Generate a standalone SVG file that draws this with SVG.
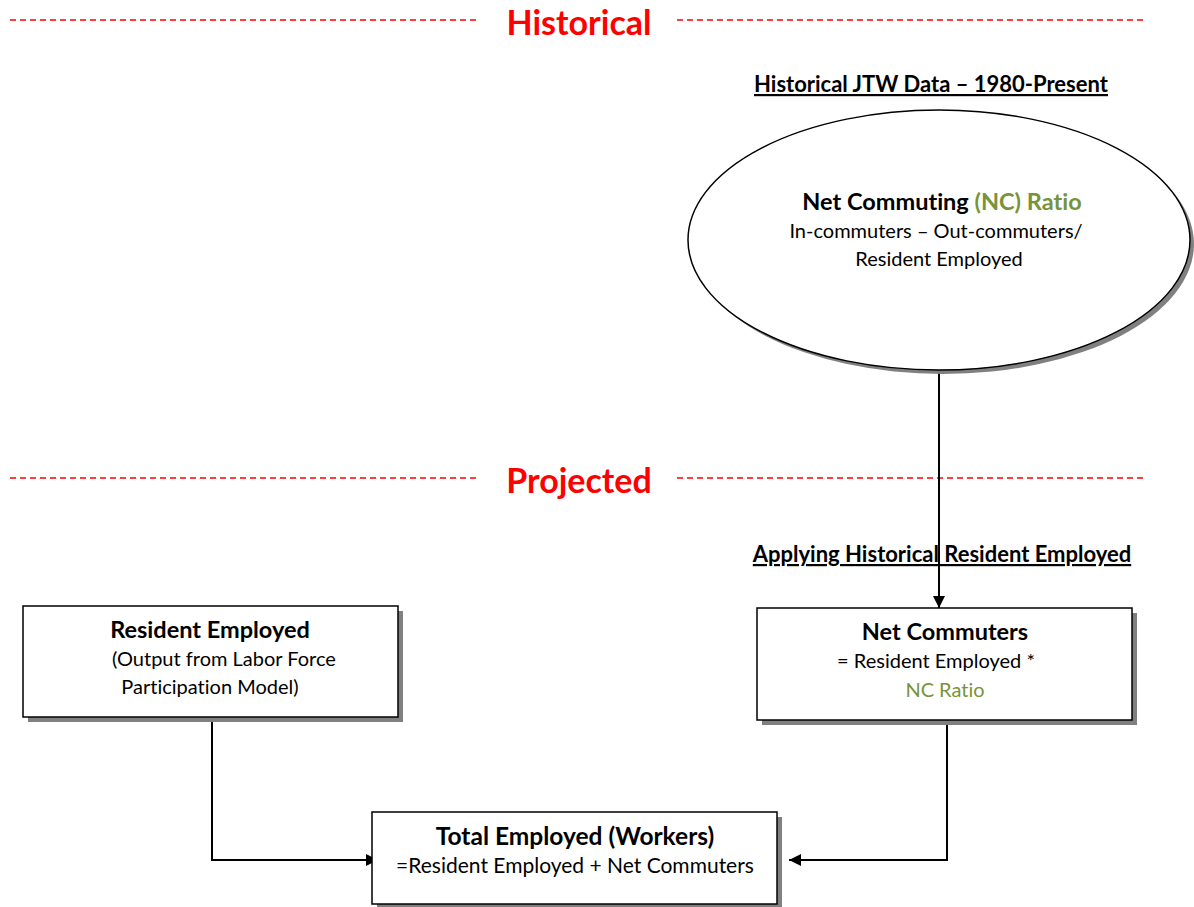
<svg xmlns="http://www.w3.org/2000/svg" width="1194" height="907" viewBox="0 0 1194 907">
<style>
text{font-family:Lato,"Liberation Sans",sans-serif;fill:#000;text-anchor:middle;font-variant-ligatures:none}
.sec{font-size:34px;font-weight:bold;fill:#ff0000}
.dash{stroke:#ff0000;stroke-width:1.5;stroke-dasharray:6 4;fill:none}
.hd{font-size:22px;font-weight:bold;text-decoration:underline}
.b{font-size:23.5px;font-weight:bold}
.n{font-size:20px}
.g{fill:#77933c}
.box{fill:#fff;stroke:#000;stroke-width:1.5}
.sh{fill:#808080}
.con{stroke:#000;stroke-width:2;fill:none}
</style>
<defs>
<marker id="ah" viewBox="0 0 12 12" refX="12" refY="6" markerWidth="12" markerHeight="12" orient="auto" markerUnits="userSpaceOnUse">
<path d="M0,0 L12,6 L0,12 z" fill="#000"/>
</marker>
</defs>
<g id="sections">
<line class="dash" x1="10" y1="20" x2="480" y2="20"/>
<line class="dash" x1="677" y1="20" x2="1146" y2="20"/>
<text class="sec" x="579" y="35">Historical</text>
<line class="dash" x1="10" y1="478" x2="480" y2="478"/>
<line class="dash" x1="677" y1="478" x2="1146" y2="478"/>
<text class="sec" x="579" y="493">Projected</text>
</g>
<g id="connectors">
<line class="con" x1="939" y1="372" x2="939" y2="608" marker-end="url(#ah)"/>
<polyline class="con" points="212,717 212,860 378,860" marker-end="url(#ah)"/>
<polyline class="con" points="947,722 947,860 789,860" marker-end="url(#ah)"/>
</g>
<g id="labels">
<text class="hd" x="931" y="92">Historical JTW Data – 1980-Present</text>
<text class="hd" x="942" y="562">Applying Historical Resident Employed</text>
</g>
<g id="nc-ratio">
<ellipse class="sh" cx="943" cy="244" rx="251" ry="130"/>
<ellipse class="box" cx="939" cy="240" rx="251" ry="130"/>
<text class="b" x="942" y="210">Net Commuting <tspan class="g">(NC) Ratio</tspan></text>
<text class="n" x="936" y="238">In-commuters – Out-commuters/</text>
<text class="n" x="939" y="266">Resident Employed</text>
</g>
<g id="resident-employed">
<rect class="sh" x="28" y="611" width="375" height="111"/>
<rect class="box" x="23" y="606" width="375" height="111"/>
<text class="b" x="210" y="638">Resident Employed</text>
<text class="n" x="224" y="666">(Output from Labor Force</text>
<text class="n" x="210" y="694">Participation Model)</text>
</g>
<g id="net-commuters">
<rect class="sh" x="762" y="613" width="375" height="112"/>
<rect class="box" x="757" y="608" width="375" height="112"/>
<text class="b" x="945" y="640">Net Commuters</text>
<text class="n" x="936" y="668">= Resident Employed *</text>
<text class="n g" x="945" y="697">NC Ratio</text>
</g>
<g id="total-employed">
<rect class="sh" x="377" y="817" width="405" height="92"/>
<rect class="box" x="372" y="812" width="405" height="92"/>
<text class="b" x="575" y="845" style="font-size:24.5px">Total Employed (Workers)</text>
<text class="n" x="575" y="873" style="font-size:21px">=Resident Employed + Net Commuters</text>
</g>
</svg>
